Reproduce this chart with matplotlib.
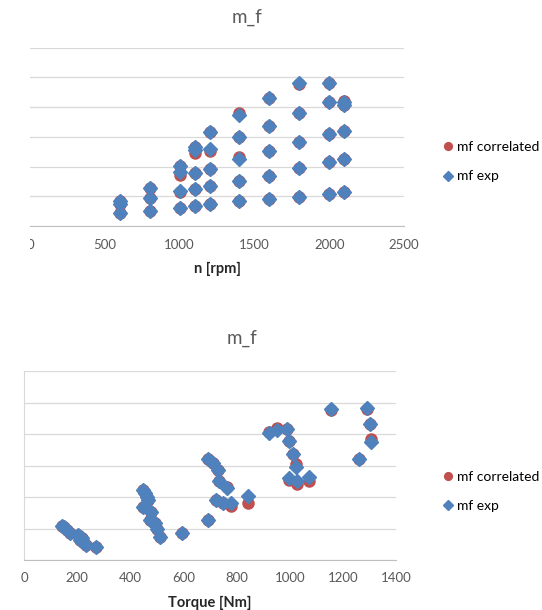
import matplotlib.pyplot as plt
from matplotlib.patches import Rectangle

plt.rcParams['font.family'] = ['Lato', 'DejaVu Sans']

# top chart: fuel mass vs engine speed
n_exp = [600, 600, 600,
         800, 800, 800,
         1000, 1000, 1000, 1000,
         1100, 1100, 1100, 1100, 1100,
         1200, 1200, 1200, 1200, 1200,
         1400, 1400, 1400, 1400, 1400,
         1600, 1600, 1600, 1600, 1600,
         1800, 1800, 1800, 1800, 1800,
         2000, 2000, 2000, 2000, 2000,
         2100, 2100, 2100, 2100, 2100]
mf_n_exp = [0.85, 0.75, 0.43,
            1.29, 0.95, 0.50,
            2.03, 1.83, 1.19, 0.62,
            2.67, 2.56, 1.79, 1.23, 0.68,
            3.17, 2.59, 1.91, 1.35, 0.74,
            3.73, 2.98, 2.24, 1.52, 0.84,
            4.32, 3.36, 2.52, 1.69, 0.90,
            4.82, 3.79, 2.84, 1.96, 0.99,
            4.80, 4.16, 3.09, 2.15, 1.07,
            4.18, 4.07, 3.20, 2.24, 1.13]
mf_n_corr = [0.85, 0.75, 0.43,
             1.29, 0.95, 0.50,
             2.02, 1.70, 1.14, 0.62,
             2.67, 2.44, 1.79, 1.23, 0.68,
             3.17, 2.53, 1.91, 1.35, 0.74,
             3.80, 2.98, 2.31, 1.52, 0.84,
             4.32, 3.36, 2.52, 1.69, 0.90,
             4.78, 3.79, 2.84, 1.96, 0.99,
             4.80, 4.16, 3.09, 2.15, 1.07,
             4.22, 4.07, 3.20, 2.24, 1.13]

# bottom chart: fuel mass vs torque
tq_exp = [142, 150, 161, 173, 204, 211, 218, 225, 232, 271,
          447, 455, 462, 449, 465, 477, 474, 493, 502, 512, 596,
          694, 712, 731, 735, 765, 723, 748, 778, 844, 694,
          923, 951, 991, 999, 1014, 1023, 999, 1026, 1073,
          1154, 1290, 1302, 1305, 1262]
mf_tq_exp = [1.09, 1.04, 0.95, 0.87, 0.79, 0.63, 0.71, 0.53, 0.48, 0.40,
             2.22, 2.12, 1.99, 1.69, 1.90, 1.53, 1.27, 1.17, 0.97, 0.72, 0.85,
             3.20, 3.07, 2.86, 2.52, 2.28, 1.90, 1.80, 1.82, 2.03, 1.27,
             4.04, 4.13, 4.16, 3.78, 3.37, 2.96, 2.59, 2.52, 2.64,
             4.79, 4.83, 4.32, 3.76, 3.20]
mf_tq_corr = [1.09, 1.04, 0.95, 0.87, 0.79, 0.63, 0.71, 0.53, 0.48, 0.40,
              2.22, 2.12, 1.99, 1.69, 1.90, 1.53, 1.27, 1.17, 0.97, 0.72, 0.85,
              3.20, 3.07, 2.86, 2.52, 2.33, 1.90, 1.80, 1.70, 1.82, 1.27,
              4.06, 4.20, 4.16, 3.78, 3.37, 3.04, 2.55, 2.41, 2.52,
              4.76, 4.80, 4.32, 3.83, 3.20]

blue = '#4F81BD'
red = '#C0504D'
grid_c = '#D9D9D9'
text_c = '#595959'

fig = plt.figure(figsize=(5.42, 6.10), dpi=100)
ax1 = fig.add_axes([30 / 542, 1 - 226 / 610, 374 / 542, 178.3 / 610])
ax2 = fig.add_axes([24 / 542, 1 - 560 / 610, 372 / 542, 189 / 610])


def style(ax, xmax, xstep, xlabel, left_line, title_x, title_pad):
    ax.set_xlim(0, xmax)
    ax.set_ylim(0, 6)
    ax.set_xticks(range(0, xmax + 1, xstep))
    ax.set_yticks(range(0, 7))
    ax.set_yticklabels([])
    ax.grid(axis='y', color=grid_c, linewidth=0.9)
    ax.set_axisbelow(True)
    for s in ['top', 'right']:
        ax.spines[s].set_visible(False)
    ax.spines['left'].set_visible(left_line)
    ax.spines['left'].set_color(grid_c)
    ax.spines['bottom'].set_color('#BFBFBF')
    ax.tick_params(length=0, labelsize=9.5, labelcolor=text_c, pad=9)
    ax.set_xlabel(xlabel, fontsize=10.5, fontweight='bold', color='#262626',
                  labelpad=8)
    ax.set_title('m_f', fontsize=13.5, color=text_c, pad=title_pad, x=title_x)


ax1.plot(n_exp, mf_n_corr, 'o', color=red, markersize=8,
         linestyle='none', label='mf correlated')
ax1.plot(n_exp, mf_n_exp, 'D', color=blue, markersize=7.2,
         linestyle='none', label='mf exp')
style(ax1, 2500, 500, 'n [rpm]', False, 0.58, 18)
ax1.legend(loc='center left', bbox_to_anchor=(1.09, 0.36), frameon=False,
           fontsize=10, handlelength=0.7, handletextpad=0.3,
           labelspacing=1.25, markerscale=0.7, borderaxespad=0)

ax2.plot(tq_exp, mf_tq_corr, 'o', color=red, markersize=8,
         linestyle='none', label='mf correlated')
ax2.plot(tq_exp, mf_tq_exp, 'D', color=blue, markersize=7.2,
         linestyle='none', label='mf exp')
style(ax2, 1400, 200, 'Torque [Nm]', True, 0.586, 19.5)
ax2.legend(loc='center left', bbox_to_anchor=(1.113, 0.362), frameon=False,
           fontsize=10, handlelength=0.7, handletextpad=0.3,
           labelspacing=1.25, markerscale=0.7, borderaxespad=0)

# the top chart is cropped on the left, hiding half of its first tick label
fig.add_artist(Rectangle((0, 1 - 252 / 610), 29.5 / 542, 20 / 610,
                         transform=fig.transFigure, facecolor='white',
                         edgecolor='none', zorder=10))

fig.savefig('out.png', dpi=100)
